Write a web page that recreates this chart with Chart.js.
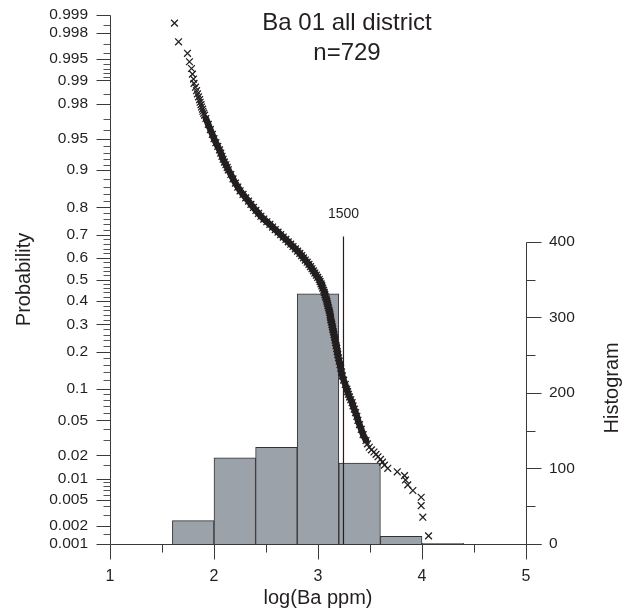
<!DOCTYPE html>
<html><head><meta charset="utf-8">
<script src="https://cdn.jsdelivr.net/npm/chart.js@4.4.1/dist/chart.umd.min.js"></script>
<style>html,body{margin:0;padding:0;background:#fff;}#wrap{width:640px;height:614px;}</style>
</head><body><div id="wrap"><canvas id="c" width="640" height="614"></canvas></div>
<script>
// ---------------- data ----------------
const titleLines = ['Ba 01 all district', 'n=729'];
const xTitle = 'log(Ba ppm)';
const yTitle = 'Probability';
const yHTitle = 'Histogram';

const probMajor = [0.999,0.998,0.995,0.99,0.98,0.95,0.9,0.8,0.7,0.6,0.5,0.4,0.3,0.2,0.1,0.05,0.02,0.01,0.005,0.002,0.001];
const probLabels = ['0.999','0.998','0.995','0.99','0.98','0.95','0.9','0.8','0.7','0.6','0.5','0.4','0.3','0.2','0.1','0.05','0.02','0.01','0.005','0.002','0.001'];
const probMinor = [0.9985,0.997,0.996,0.994,0.993,0.992,0.991,0.985,0.97,0.96,0.94,0.93,0.92,0.91,0.88,0.86,0.84,0.82,0.78,0.76,0.74,0.72,0.68,0.66,0.64,0.62,0.58,0.56,0.54,0.52,0.48,0.46,0.44,0.42,0.38,0.36,0.34,0.32,0.28,0.26,0.24,0.22,0.18,0.16,0.14,0.12,0.09,0.08,0.07,0.06,0.04,0.03,0.015,0.009,0.008,0.007,0.006,0.004,0.003,0.0015];
const xMajor = [1,2,3,4,5];
const xMinor = [1.5,2.5,3.5,4.5];
const histMajor = [0,100,200,300,400];
const histMinor = [50,150,250,350];

const binCenters = [1.8,2.2,2.6,3.0,3.4,3.8,4.2];
const binCounts  = [31,114,128,331,107,10,1];

const thresholdLabel = '1500';
const thresholdLogX = 3.245;
const thresholdTop = 407;

const probs = [0.99863,0.99726,0.99589,0.99452,0.99315,0.99178,0.99041,0.98904,0.98767,0.98630,0.98493,0.98356,0.98219,0.98082,0.97945,0.97808,0.97671,0.97534,0.97397,0.97260,
0.97,0.965,0.96,0.955,0.95,0.945,0.94,0.935,0.93,0.925,0.92,0.915,0.91,0.905,0.90,
0.89,0.88,0.87,0.86,0.85,0.84,0.83,0.82,0.81,0.80,0.79,0.78,0.77,0.76,0.75,0.74,0.73,0.72,0.71,0.70,
0.69,0.68,0.67,0.66,0.65,0.64,0.63,0.62,0.61,0.60,0.59,0.58,0.57,0.56,0.55,0.54,0.53,0.52,0.51,0.50,
0.49,0.48,0.47,0.46,0.45,0.44,0.43,0.42,0.41,0.40,0.39,0.38,0.37,0.36,0.35,0.34,0.33,0.32,0.31,0.30,
0.29,0.28,0.27,0.26,0.25,0.24,0.23,0.22,0.21,0.20,0.19,0.18,0.17,0.16,0.15,0.14,0.13,0.12,0.11,0.10,
0.095,0.09,0.085,0.08,0.075,0.07,0.065,0.06,0.055,0.05,0.045,0.04,0.035,0.03,
0.02740,0.025,0.02329,0.02192,0.02055,0.01918,0.01781,0.01644,0.01507,0.01370,0.01233,0.01096,0.00959,0.00822,0.00685,0.00548,0.00411,0.00274,0.00137];
const logBa = [1.620,1.659,1.745,1.764,1.784,1.793,1.803,1.808,1.822,1.832,1.841,1.851,1.861,1.867,1.875,1.880,1.889,1.893,1.901,1.909,
1.922,1.945,1.965,1.984,2.000,2.018,2.036,2.053,2.065,2.077,2.088,2.101,2.114,2.127,2.138,
2.162,2.183,2.206,2.229,2.251,2.279,2.305,2.332,2.355,2.379,2.403,2.428,2.451,2.479,2.508,2.537,2.563,2.589,2.616,2.641,
2.666,2.691,2.714,2.738,2.760,2.783,2.804,2.825,2.843,2.861,2.878,2.896,2.913,2.928,2.942,2.956,2.970,2.984,2.997,3.012,
3.020,3.029,3.037,3.045,3.054,3.060,3.066,3.072,3.079,3.085,3.090,3.095,3.101,3.106,3.112,3.116,3.119,3.123,3.128,3.133,
3.138,3.142,3.148,3.153,3.158,3.163,3.168,3.174,3.180,3.185,3.190,3.197,3.204,3.212,3.218,3.226,3.234,3.247,3.262,3.277,
3.285,3.293,3.303,3.315,3.328,3.337,3.349,3.361,3.374,3.384,3.399,3.416,3.434,3.462,
3.476,3.493,3.514,3.538,3.558,3.577,3.601,3.620,3.639,3.671,3.762,3.832,3.841,3.863,3.912,3.992,3.992,4.008,4.063];

// ------------- normal probability transform -------------
function probit(p){
  const a=[-3.969683028665376e+01,2.209460984245205e+02,-2.759285104469687e+02,1.383577518672690e+02,-3.066479806614716e+01,2.506628277459239e+00];
  const b=[-5.447609879822406e+01,1.615858368580409e+02,-1.556989798598866e+02,6.680131188771972e+01,-1.328068155288572e+01];
  const c=[-7.784894002430293e-03,-3.223964580411365e-01,-2.400758277161838e+00,-2.549671010115069e+00,4.374664141464968e+00,2.938163982698783e+00];
  const d=[7.784695709041462e-03,3.224671290700398e-01,2.445134137142996e+00,3.754408661907416e+00];
  const pl=0.02425, ph=1-pl; let q,r;
  if(p<pl){q=Math.sqrt(-2*Math.log(p));return (((((c[0]*q+c[1])*q+c[2])*q+c[3])*q+c[4])*q+c[5])/((((d[0]*q+d[1])*q+d[2])*q+d[3])*q+1);}
  if(p<=ph){q=p-0.5;r=q*q;return (((((a[0]*r+a[1])*r+a[2])*r+a[3])*r+a[4])*r+a[5])*q/(((((b[0]*r+b[1])*r+b[2])*r+b[3])*r+b[4])*r+1);}
  q=Math.sqrt(-2*Math.log(1-p));return -(((((c[0]*q+c[1])*q+c[2])*q+c[3])*q+c[4])*q+c[5])/((((d[0]*q+d[1])*q+d[2])*q+d[3])*q+1);
}

const INK = '#231f20';
const FONT = "'Liberation Sans', Arial, sans-serif";
Chart.defaults.font.family = FONT;
Chart.defaults.color = INK;

const points = probs.map((p,i)=>({x:logBa[i], y:probit(p)}));
const bandPoints = probs.map((p,i)=>({p, x:logBa[i], y:probit(p)})).filter(o=>o.p<=0.97 && o.p>=0.03).map(o=>({x:o.x,y:o.y}));
const bars = binCenters.map((c,i)=>({x:c, y:binCounts[i]}));
const thrLine = [{x:thresholdLogX, y:0},{x:thresholdLogX, y:thresholdTop}];

const zeroPad = s => { s.paddingTop = 0; s.paddingBottom = 0; };

const decor = {
  id:'decor',
  afterDatasetsDraw(chart){
    const {ctx, chartArea:ca, scales} = chart;
    const x = scales.x, y = scales.y, yH = scales.yH;
    const r = v => Math.round(v) + 0.5;
    const line = (x1,y1,x2,y2)=>{ctx.beginPath();ctx.moveTo(x1,y1);ctx.lineTo(x2,y2);ctx.stroke();};
    ctx.save();
    ctx.strokeStyle = '#3a3a3a'; ctx.lineWidth = 1;
    const L = r(ca.left), R = r(ca.right), B = r(ca.bottom);
    const T = r(y.getPixelForValue(probit(0.999)));
    line(L, T, L, B);
    line(L, B, R + 15, B);
    line(R, r(yH.getPixelForValue(400)), R, B);
    probMajor.forEach(p=>{const py=r(y.getPixelForValue(probit(p))); line(L-14,py,L,py);});
    ctx.strokeStyle = '#555';
    probMinor.forEach(p=>{const py=r(y.getPixelForValue(probit(p))); line(L-7,py,L,py);});
    ctx.strokeStyle = '#3a3a3a';
    xMajor.forEach(v=>{const px=r(x.getPixelForValue(v)); line(px,B,px,B+15);});
    xMinor.forEach(v=>{const px=r(x.getPixelForValue(v)); line(px,B,px,B+8);});
    histMajor.forEach(v=>{const py=r(yH.getPixelForValue(v)); line(R,py,R+15,py);});
    histMinor.forEach(v=>{const py=r(yH.getPixelForValue(v)); line(R,py,R+9,py);});
    // texts
    ctx.fillStyle = INK;
    ctx.textAlign = 'center'; ctx.textBaseline = 'alphabetic';
    ctx.font = '24px ' + FONT;
    const tx = ca.left + 237;
    ctx.fillText(titleLines[0], tx, ca.top + 14.5);
    ctx.fillText(titleLines[1], tx, ca.top + 45);
    ctx.font = '14px ' + FONT;
    ctx.textBaseline = 'middle';
    ctx.fillText(thresholdLabel, x.getPixelForValue(thresholdLogX), yH.getPixelForValue(thresholdTop) - 22);
    ctx.save();
    ctx.font = '20px ' + FONT;
    const hy = (yH.getPixelForValue(0) + yH.getPixelForValue(400)) / 2 - 5;
    ctx.translate(ca.right + 86, hy);
    ctx.rotate(-Math.PI/2);
    ctx.fillText(yHTitle, 0, 0);
    ctx.restore();
    ctx.restore();
  }
};

new Chart(document.getElementById('c'), {
  type:'scatter',
  data:{datasets:[
    {type:'scatter', data:points, yAxisID:'y', pointStyle:'crossRot', pointRadius:4.8, pointBorderWidth:1.3, borderColor:INK, backgroundColor:INK, order:0},
    {type:'line', data:bandPoints, yAxisID:'y', borderColor:INK, borderWidth:6.5, pointRadius:0, tension:0, borderJoinStyle:'round', borderCapStyle:'round', fill:false, order:1},
    {type:'line', data:thrLine, yAxisID:'yH', borderColor:INK, borderWidth:1.2, pointRadius:0, fill:false, order:2},
    {type:'bar', data:bars, yAxisID:'yH', backgroundColor:'#9ca2a9', borderColor:'#333', borderWidth:1, barPercentage:1, categoryPercentage:1, order:3}
  ]},
  options:{
    responsive:false, animation:false, devicePixelRatio:1,
    layout:{padding:{top:15,left:0,right:0,bottom:0}},
    plugins:{legend:{display:false}, tooltip:{enabled:false}, title:{display:false}},
    scales:{
      x:{type:'linear', position:'bottom', min:1, max:5, offset:false,
         grid:{display:false, offset:false, drawTicks:false}, border:{display:false},
         afterBuildTicks:s=>{s.ticks = xMajor.map(v=>({value:v}));},
         afterFit:s=>{s.height = 70; s.paddingLeft = 0; s.paddingRight = 0;},
         ticks:{autoSkip:false, maxRotation:0, padding:23, font:{size:16}, color:INK, callback:v=>String(v)},
         title:{display:true, text:xTitle, font:{size:20}, color:INK, padding:{top:0,bottom:4}}},
      y:{type:'linear', position:'left', min:probit(0.001), max:probit(0.999),
         grid:{display:false, drawTicks:false}, border:{display:false},
         afterBuildTicks:s=>{s.ticks = probMajor.map(p=>({value:probit(p)}));},
         afterFit:s=>{s.width = 110; zeroPad(s);},
         ticks:{autoSkip:false, padding:22, font:{size:15.5}, color:INK, callback:(v,i)=>probLabels[i]},
         title:{display:true, text:yTitle, font:{size:20}, color:INK, padding:{top:12,bottom:0}}},
      yH:{type:'linear', position:'right', min:0, max:700,
         grid:{display:false, drawTicks:false}, border:{display:false},
         afterBuildTicks:s=>{s.ticks = histMajor.map(v=>({value:v}));},
         afterFit:s=>{s.width = 114; zeroPad(s);},
         ticks:{autoSkip:false, padding:23, font:{size:15.5}, color:INK, callback:v=>String(v)}}
    }
  },
  plugins:[decor]
});
</script></body></html>
